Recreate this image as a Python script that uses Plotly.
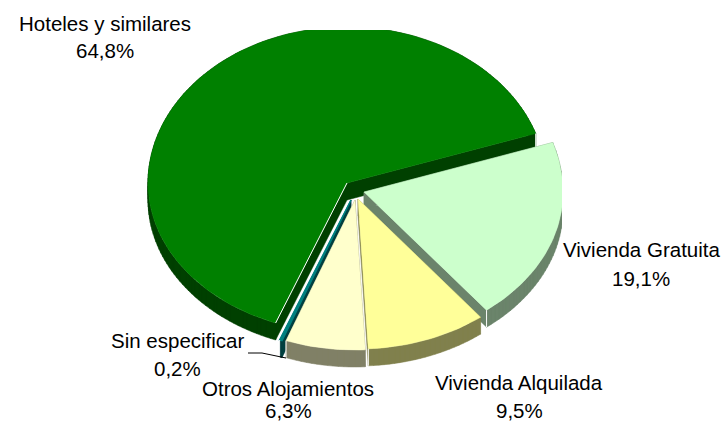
import math
import plotly.graph_objects as go

# Data (clockwise from the green slice's end)
categories = ["Vivienda Gratuita", "Vivienda Alquilada", "Otros Alojamientos", "Sin especificar", "Hoteles y similares"]
values = [19.1, 9.5, 6.3, 0.2, 64.8]
top_colors = ["#CCFFCC", "#FFFF99", "#FFFFCC", "#008080", "#008000"]
side_colors = ["#6B846B", "#80804D", "#808066", "#004040", "#004000"]

# Pie geometry (pixel-like axis units)
W, H = 721, 423
CLIP_TOP, CLIP_RIGHT = 30, 562
RX, RY_UP, RY_DOWN, DEPTH = 199, 156, 150, 17
START_ANGLE = 18.5
FRONT_STRETCH = 1.025  # tilted pie: front slices look slightly wider
apex = {
    "Vivienda Gratuita": (364, 192),
    "Vivienda Alquilada": (358, 199),
    "Otros Alojamientos": (355, 200),
    "Sin especificar": (351, 200),
    "Hoteles y similares": (347, 183),
}
label_pos = {
    "Vivienda Gratuita": (641, 249, 278),
    "Vivienda Alquilada": (519, 382, 410),
    "Otros Alojamientos": (288, 388, 410),
    "Sin especificar": (177, 340, 368),
    "Hoteles y similares": (105, 23, 51),
}

# angles derived from the values
spans = {}
t = START_ANGLE
for c, v in zip(categories, values):
    if c == "Hoteles y similares":
        t1 = START_ANGLE - 360
    else:
        t1 = t - v / 100 * 360 * FRONT_STRETCH
    spans[c] = (t, t1)
    t = t1


def wedge(cat):
    a0, a1 = spans[cat]
    ax, ay = apex[cat]
    n = max(2, int(abs(a1 - a0) / 1.5))
    pts = [(ax, ay)]
    for i in range(n + 1):
        a = math.radians(a0 + (a1 - a0) * i / n)
        s = math.sin(a)
        pts.append((ax + RX * math.cos(a), ay - (RY_UP if s > 0 else RY_DOWN) * s))
    return pts


def quads(pts):
    xs, ys = [], []
    m = len(pts)
    for i in range(m):
        p, q = pts[i], pts[(i + 1) % m]
        poly = [p, q, (q[0], q[1] + DEPTH), (p[0], p[1] + DEPTH)]
        area = sum(poly[j][0] * poly[(j + 1) % 4][1] - poly[(j + 1) % 4][0] * poly[j][1] for j in range(4))
        if area < 0:
            poly = poly[::-1]
        for x, y in poly + [poly[0]]:
            xs.append(x)
            ys.append(y)
        xs.append(None)
        ys.append(None)
    return xs, ys


fig = go.Figure()
draw_order = ["Hoteles y similares", "Vivienda Gratuita", "Vivienda Alquilada", "Sin especificar", "Otros Alojamientos"]
for c in draw_order:
    i = categories.index(c)
    pts = wedge(c)
    sx, sy = quads(pts)
    fig.add_trace(go.Scatter(x=sx, y=sy, mode="lines", fill="toself", fillcolor=side_colors[i],
                             line=dict(color=side_colors[i], width=0.5), hoverinfo="skip", showlegend=False))
    closed = pts + [pts[0]]
    edge_w = 1.5 if c == "Sin especificar" else 0.5
    fig.add_trace(go.Scatter(x=[p[0] for p in closed], y=[p[1] for p in closed], mode="lines", fill="toself",
                             fillcolor=top_colors[i], line=dict(color=top_colors[i], width=edge_w),
                             hoverinfo="skip", showlegend=False, name=c))
    # thin white seam at the clockwise end of each slice's rim
    end = pts[-1]
    fig.add_trace(go.Scatter(x=[end[0], end[0]], y=[end[1], end[1] + DEPTH], mode="lines",
                             line=dict(color="white", width=1), hoverinfo="skip", showlegend=False))
    if c == "Hoteles y similares":
        # highlight along the green slice's radial edge
        fig.add_trace(go.Scatter(x=[pts[0][0], pts[1][0]], y=[pts[0][1], pts[1][1]], mode="lines",
                                 line=dict(color="white", width=1), hoverinfo="skip", showlegend=False))

# Leader line for the smallest slice
fig.add_trace(go.Scatter(x=[248, 262, 286], y=[353, 353, 358], mode="lines",
                         line=dict(color="black", width=1), hoverinfo="skip", showlegend=False))

annotations = []
for c, v in zip(categories, values):
    x, y1, y2 = label_pos[c]
    for txt, y in ((c, y1), (f"{v:.1f}%".replace(".", ","), y2)):
        annotations.append(dict(text=txt, xref="paper", yref="paper",
                                x=x / CLIP_RIGHT, y=1 - (y - CLIP_TOP) / (H - CLIP_TOP),
                                xanchor="center", yanchor="middle", showarrow=False,
                                font=dict(family="Liberation Sans, Arial", size=20.5, color="black")))

fig.update_layout(
    width=W, height=H,
    margin=dict(l=0, r=W - CLIP_RIGHT, t=CLIP_TOP, b=0, pad=0, autoexpand=False),
    paper_bgcolor="white", plot_bgcolor="white",
    xaxis=dict(range=[0, CLIP_RIGHT], visible=False, fixedrange=True),
    yaxis=dict(range=[H, CLIP_TOP], visible=False, fixedrange=True),
    annotations=annotations,
    showlegend=False,
)
fig.write_html("out.html", config={"displayModeBar": False},
               post_script="document.body.style.margin='0';")
